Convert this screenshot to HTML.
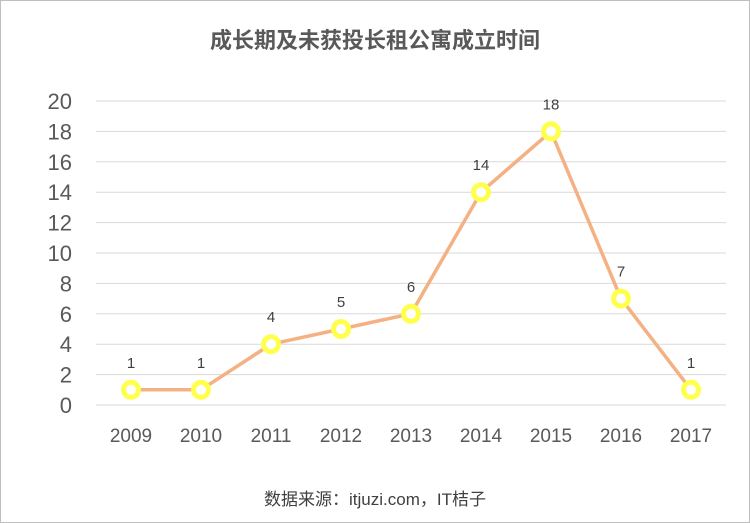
<!DOCTYPE html>
<html><head><meta charset="utf-8"><style>
html,body{margin:0;padding:0;background:#fff;}
svg{display:block;font-family:"Liberation Sans","Noto Sans CJK SC",sans-serif;}
</style></head><body>
<svg id="chart" width="750" height="523" viewBox="0 0 750 523">
<rect x="0.5" y="0.5" width="749" height="522" fill="#fff" stroke="#bfbfbf"/>
<text x="375" y="48" text-anchor="middle" font-size="22" font-weight="bold" fill="#595959">成长期及未获投长租公寓成立时间</text>
<g id="grid"></g>
<g id="yticks"></g>
<g id="xticks"></g>
<g id="series"></g>
<text x="375" y="505" text-anchor="middle" font-size="17" fill="#404040">数据来源：itjuzi.com，IT桔子</text>
</svg>
<script>
const years = ["2009","2010","2011","2012","2013","2014","2015","2016","2017"];
const counts = [1,1,4,5,6,14,18,7,1];
const yTicks = [0,2,4,6,8,10,12,14,16,18,20];

const NS = "http://www.w3.org/2000/svg";
const plotLeft = 96, step = 70, y0 = 405, yMax = 20, plotH = 304;
function xScale(i){ return plotLeft + step/2 + i*step; }
function yScale(v){ return y0 - v/yMax*plotH; }
function mk(tag, attrs, parent){ const e=document.createElementNS(NS,tag); for(const k in attrs) e.setAttribute(k,attrs[k]); parent.appendChild(e); return e; }

const grid=document.getElementById('grid'), yt=document.getElementById('yticks'), xt=document.getElementById('xticks'), ser=document.getElementById('series');
yTicks.forEach(t=>{
  const l=mk('line',{x1:plotLeft,x2:plotLeft+step*years.length,y1:yScale(t),y2:yScale(t),stroke:'#d9d9d9','stroke-width':1},grid);
  
  
  const tx=mk('text',{x:72,y:yScale(t)+8,'text-anchor':'end','font-size':22,fill:'#595959'},yt);
  tx.textContent=t;
  
  
});
years.forEach((y,i)=>{
  const tx=mk('text',{x:xScale(i),y:442,'text-anchor':'middle','font-size':19,fill:'#595959'},xt);
  tx.textContent=y;
  
  
});
const pts=counts.map((v,i)=>xScale(i)+','+yScale(v)).join(' ');
const pl=mk('polyline',{points:pts,fill:'none',stroke:'#F4B183','stroke-width':3.5,'stroke-linejoin':'round'},ser);


counts.forEach((v,i)=>{
  const c=mk('circle',{cx:xScale(i),cy:yScale(v),r:7.5,fill:'#fff',stroke:'#FFFF4D','stroke-width':5},ser);
  
  
  const t=mk('text',{x:xScale(i),y:yScale(v)-22,'text-anchor':'middle','font-size':15,fill:'#404040'},ser);
  t.textContent=v;
  
  
});
</script>
</body></html>
